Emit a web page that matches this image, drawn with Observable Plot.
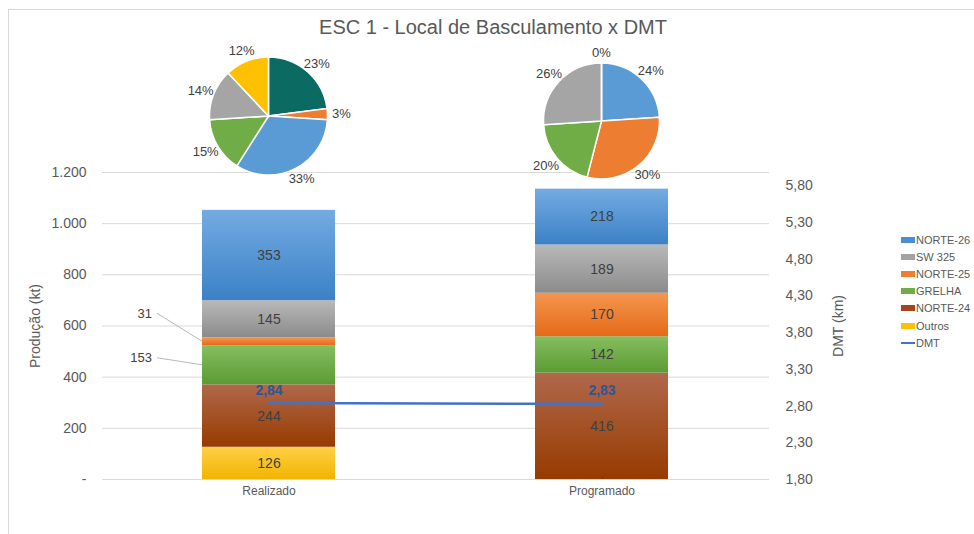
<!DOCTYPE html>
<html>
<head>
<meta charset="utf-8">
<script src="https://cdn.jsdelivr.net/npm/d3@7"></script>
<script src="https://cdn.jsdelivr.net/npm/@observablehq/plot@0.6"></script>
<style>
html,body{margin:0;padding:0;background:#fff;}
#wrap{position:relative;width:974px;height:534px;overflow:hidden;font-family:"Liberation Sans",Arial,sans-serif;}
#frame{position:absolute;left:8px;top:9px;right:0;bottom:-2px;border-top:1px solid #d9d9d9;border-left:1px solid #d9d9d9;}
#title{position:absolute;top:15px;left:493px;transform:translateX(-50%);font-size:20px;line-height:24px;color:#595959;white-space:nowrap;}
#legend{position:absolute;left:901px;top:231px;font-size:11px;color:#595959;}
.item{height:17.2px;display:flex;align-items:center;white-space:nowrap;}
.sw{width:14px;height:6px;margin-right:1px;}
.ln{width:14px;height:2px;margin-right:1px;}
#chart{position:absolute;left:0;top:0;}
</style>
</head>
<body>
<div id="wrap">
  <div id="frame"></div>
  <div id="chart"></div>
  <div id="title">ESC 1 - Local de Basculamento x DMT</div>
  <div id="legend"></div>
</div>
<script>
// ---- data ----
const categories = ["Realizado", "Programado"];
const series = ["Outros", "NORTE-24", "GRELHA", "NORTE-25", "SW 325", "NORTE-26"];
const realizado = [126, 244, 153, 31, 145, 353];
const programado = [0, 416, 142, 170, 189, 218];
const dmt = [2.84, 2.83];
const yTicks = [0, 200, 400, 600, 800, 1000, 1200];
const dmtTicks = [1.8, 2.3, 2.8, 3.3, 3.8, 4.3, 4.8, 5.3, 5.8];
const pieRealizadoLabels = ["NORTE-24", "NORTE-25", "NORTE-26", "GRELHA", "SW 325", "Outros"];
const pieRealizado = [23, 3, 33, 15, 14, 12];
const pieProgramadoLabels = ["NORTE-26", "NORTE-25", "GRELHA", "SW 325", "NORTE-24"];
const pieProgramado = [24, 30, 20, 26, 0];
const legendOrder = ["NORTE-26", "SW 325", "NORTE-25", "GRELHA", "NORTE-24", "Outros"];

// ---- styles ----
const barGrad = {
  "NORTE-26": ["#74abe1", "#3b81c7"],
  "SW 325": ["#b9b9b9", "#8b8b8b"],
  "NORTE-25": ["#f5964f", "#e46a17"],
  "GRELHA": ["#86be5f", "#5b9b34"],
  "NORTE-24": ["#b0684b", "#973b00"],
  "Outros": ["#ffd047", "#f1b400"]
};
const legendColor = {
  "NORTE-26": "#4a8fd3", "SW 325": "#a3a3a3", "NORTE-25": "#ed7d31",
  "GRELHA": "#70ad47", "NORTE-24": "#a3461a", "Outros": "#ffc000"
};
const pieColor = {
  "NORTE-24": "#0b6a62", "NORTE-25": "#ed7d31", "NORTE-26": "#5b9bd5",
  "GRELHA": "#70ad47", "SW 325": "#a5a5a5", "Outros": "#ffc000"
};
const dmtMin = 1.8, dmtMax = 5.98, yMax = 1200;
const toLeft = v => (v - dmtMin) / (dmtMax - dmtMin) * yMax;
const fmtThousands = d => d === 0 ? "-" : d3.format(",")(d).replace(/,/g, ".");
const fmtDec = d => d.toFixed(2).replace(".", ",");

// stacked rows
const valuesByCat = [realizado, programado];
const rows = [];
categories.forEach((cat, i) => {
  let acc = 0;
  series.forEach((s, j) => {
    const v = valuesByCat[i][j];
    rows.push({cat, series: s, value: v, y1: acc, y2: acc + v, mid: acc + v / 2});
    acc += v;
  });
});
const isOutside = d => d.cat === "Realizado" && (d.series === "NORTE-25" || d.series === "GRELHA");
const insideRows = rows.filter(d => !isOutside(d) && d.value > 0);
const zeroRows = rows.filter(d => d.value === 0);
const outside25 = rows.filter(d => d.cat === "Realizado" && d.series === "NORTE-25");
const outsideGr = rows.filter(d => d.cat === "Realizado" && d.series === "GRELHA");
const dmtRows = categories.map((cat, i) => ({cat, dmt: dmt[i]}));

const pies = [
  {cat: "Realizado", labels: pieRealizadoLabels, values: pieRealizado, dy: -56, r: 59},
  {cat: "Programado", labels: pieProgramadoLabels, values: pieProgramado, dy: -51, r: 58}
];

function annotations(index, scales, values, dims) {
  const x = scales.x, y = scales.y;
  const bw = typeof x.bandwidth === "function" ? x.bandwidth()
    : (scales.scales && scales.scales.x ? scales.scales.x.bandwidth : 0);
  const g = d3.create("svg:g");
  const defs = g.append("defs");
  series.forEach((s, j) => {
    const lg = defs.append("linearGradient").attr("id", "grad-" + j)
      .attr("x1", 0).attr("y1", 0).attr("x2", 0).attr("y2", 1);
    lg.append("stop").attr("offset", "0%").attr("stop-color", barGrad[s][0]);
    lg.append("stop").attr("offset", "100%").attr("stop-color", barGrad[s][1]);
  });
  const leaders = [[outside25[0], -28], [outsideGr[0], -7]];
  leaders.forEach(([d, dy]) => {
    const x0 = x(d.cat);
    const ym = y(d.mid);
    g.append("line").attr("x1", x0 - 45).attr("y1", ym + dy).attr("x2", x0).attr("y2", ym)
      .attr("stroke", "#a6a6a6").attr("stroke-width", 0.8);
  });
  pies.forEach(p => {
    const cx = x(p.cat) + bw / 2;
    const cy = dims.marginTop + p.dy;
    const arcs = d3.pie().sort(null).value(d => d.v)(p.values.map((v, k) => ({v, label: p.labels[k]})));
    const arc = d3.arc().innerRadius(0).outerRadius(p.r);
    const pg = g.append("g").attr("transform", `translate(${cx},${cy})`);
    pg.selectAll("path").data(arcs).join("path")
      .attr("d", arc)
      .attr("fill", a => pieColor[a.data.label])
      .attr("stroke", "#fff").attr("stroke-width", 1.5);
    pg.selectAll("text").data(arcs).join("text")
      .attr("x", a => Math.sin((a.startAngle + a.endAngle) / 2) * (p.r + 14))
      .attr("y", a => -Math.cos((a.startAngle + a.endAngle) / 2) * (p.r + 11))
      .attr("dy", "0.35em").attr("text-anchor", "middle")
      .attr("font-size", 13).attr("fill", "#404040")
      .text(a => a.data.v + "%");
  });
  return g.node();
}

const chart = Plot.plot({
  width: 974,
  height: 534,
  marginTop: 172,
  marginBottom: 55,
  marginLeft: 102,
  marginRight: 205,
  style: {fontFamily: "'Liberation Sans', Arial, sans-serif", fontSize: "14px", color: "#595959", background: "transparent"},
  x: {type: "band", domain: categories, paddingInner: 0.6, paddingOuter: 0.3, axis: null},
  y: {domain: [0, yMax], ticks: yTicks, tickFormat: fmtThousands, tickSize: 0, tickPadding: 16, label: null},
  color: {type: "identity"},
  marks: [
    Plot.ruleY(yTicks, {stroke: "#d9d9d9", strokeWidth: 1}),
    Plot.barY(rows, {x: "cat", y1: "y1", y2: "y2", fill: d => `url(#grad-${series.indexOf(d.series)})`}),
    Plot.text(insideRows, {x: "cat", y: "mid", text: d => fmtThousands(d.value), fontSize: 14, fill: "#404040"}),
    Plot.text(zeroRows, {x: "cat", y: "mid", text: d => fmtThousands(d.value), dy: -3, fontSize: 10, fill: "#404040"}),
    Plot.text(outside25, {x: "cat", y: "mid", text: d => fmtThousands(d.value), dx: -117, dy: -28, textAnchor: "end", fontSize: 13, fill: "#404040"}),
    Plot.text(outsideGr, {x: "cat", y: "mid", text: d => fmtThousands(d.value), dx: -117, dy: -7, textAnchor: "end", fontSize: 13, fill: "#404040"}),
    Plot.line(dmtRows, {x: "cat", y: d => toLeft(d.dmt), stroke: "#4472c4", strokeWidth: 2.5}),
    Plot.text(dmtRows, {x: "cat", y: d => toLeft(d.dmt), text: d => fmtDec(d.dmt), dy: -13, fontSize: 14, fontWeight: "bold", fill: "#2f5597"}),
    Plot.text(dmtTicks, {y: d => toLeft(d), text: d => fmtDec(d), frameAnchor: "right", dx: 16, textAnchor: "start", fontSize: 14, fill: "#595959"}),
    Plot.text(categories, {x: d => d, text: d => d, frameAnchor: "bottom", dy: 15, fontSize: 12, fill: "#595959"}),
    Plot.text(["Produção (kt)"], {text: d => d, frameAnchor: "left", dx: -67, rotate: -90, textAnchor: "middle", fontSize: 14, fill: "#595959"}),
    Plot.text(["DMT (km)"], {text: d => d, frameAnchor: "right", dx: 69, rotate: -90, textAnchor: "middle", fontSize: 14, fill: "#595959"}),
    annotations
  ]
});
document.getElementById("chart").appendChild(chart);

// legend
const legend = d3.select("#legend");
legendOrder.forEach(s => {
  const it = legend.append("div").attr("class", "item");
  it.append("div").attr("class", "sw").style("background", legendColor[s]);
  it.append("span").text(s);
});
const li = legend.append("div").attr("class", "item");
li.append("div").attr("class", "ln").style("background", "#4472c4");
li.append("span").text("DMT");
</script>
</body>
</html>
